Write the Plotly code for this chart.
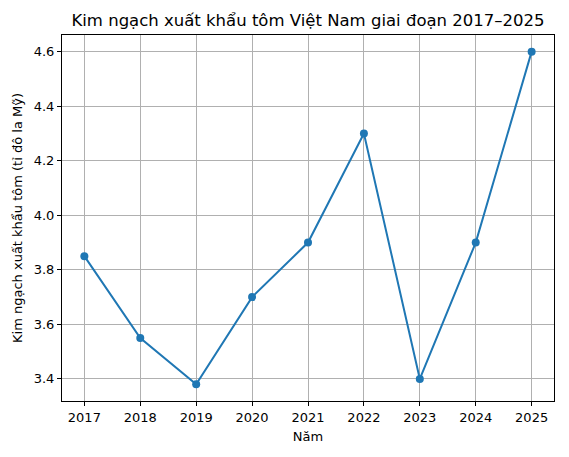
import plotly.graph_objects as go

years = [2017, 2018, 2019, 2020, 2021, 2022, 2023, 2024, 2025]
values = [3.85, 3.55, 3.38, 3.70, 3.90, 4.30, 3.40, 3.90, 4.60]
y_ticks = [3.4, 3.6, 3.8, 4.0, 4.2, 4.4, 4.6]
y_tick_labels = ["3.4", "3.6", "3.8", "4.0", "4.2", "4.4", "4.6"]

fig = go.Figure(go.Scatter(
    x=years, y=values, mode="lines+markers",
    line=dict(color="#1f77b4", width=2),
    marker=dict(color="#1f77b4", size=8),
))

axis_common = dict(
    showgrid=True, gridcolor="#b0b0b0", gridwidth=1,
    showline=True, linecolor="black", linewidth=1, mirror=True,
    ticks="outside", ticklen=4, tickcolor="black",
    zeroline=False, tickfont=dict(size=13, color="black"),
    automargin=False,
)

fig.update_layout(
    width=569, height=457,
    margin=dict(l=62, r=15, t=35, b=56),
    paper_bgcolor="white", plot_bgcolor="white",
    font=dict(family="DejaVu Sans", color="black"),
    showlegend=False,
    title=dict(text="Kim ngạch xuất khẩu tôm Việt Nam giai đoạn 2017–2025",
               x=0.5, xanchor="center", xref="paper",
               y=1 - 20/457, yanchor="middle", yref="container",
               automargin=False,
               font=dict(size=16.5, color="black")),
    xaxis=dict(axis_common, range=[2016.6, 2025.4], tickvals=years,
               title=dict(text="Năm", font=dict(size=13), standoff=8)),
    yaxis=dict(axis_common, range=[3.319, 4.661], tickvals=y_ticks,
               ticktext=y_tick_labels,
               title=dict(text="Kim ngạch xuất khẩu tôm (tỉ đô la Mỹ)", font=dict(size=13), standoff=8)),
)

fig.write_html("out.html", post_script="document.body.style.margin='0';",
               config={"displayModeBar": False})
